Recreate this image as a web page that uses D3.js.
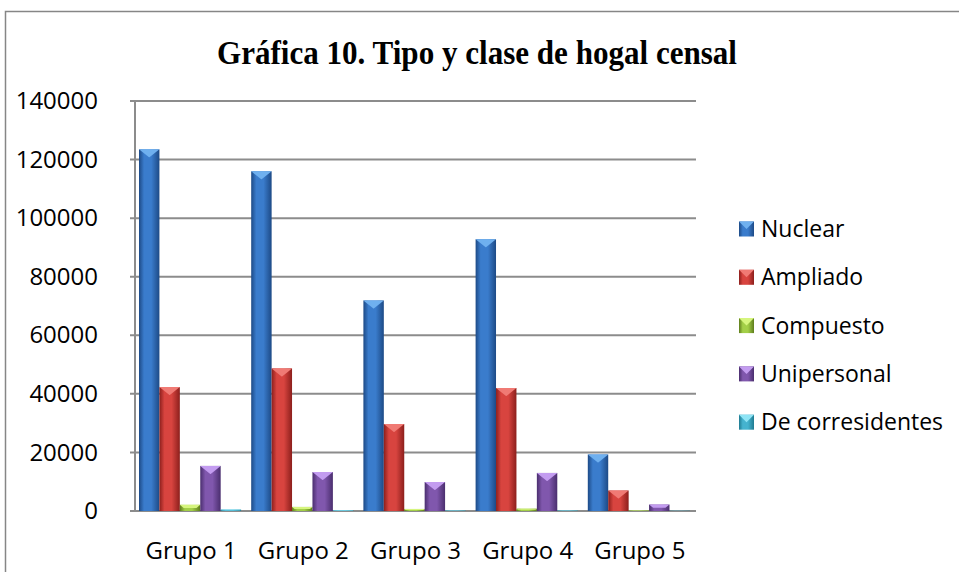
<!DOCTYPE html>
<html>
<head>
<meta charset="utf-8">
<script src="https://cdn.jsdelivr.net/npm/d3@7"></script>
<style>
  body { margin: 0; background: #fff; }
  svg text { font-family: "Open Sans", "Noto Sans", sans-serif; fill: #000; }
</style>
</head>
<body>
<div id="chart"></div>
<script>
// chart data
const groups = ["Grupo 1", "Grupo 2", "Grupo 3", "Grupo 4", "Grupo 5"];
const seriesNames = ["Nuclear", "Ampliado", "Compuesto", "Unipersonal", "De corresidentes"];
const nuclear = [123500, 116000, 71900, 92800, 19300];
const ampliado = [42300, 48700, 29700, 42000, 7000];
const compuesto = [2100, 1400, 700, 800, 200];
const unipersonal = [15400, 13300, 9900, 13000, 2200];
const corresidentes = [500, 300, 200, 200, 100];
const yTicks = [0, 20000, 40000, 60000, 80000, 100000, 120000, 140000];
const titleText = "Gráfica 10. Tipo y clase de hogal censal";

const allSeries = [nuclear, ampliado, compuesto, unipersonal, corresidentes];

// colours: [edge, middle, top cap]
const palette = [
    ["#1d4a86", "#3a7ccc", "#6fb0ef"],
    ["#8c1f1c", "#d8443f", "#f07a74"],
    ["#5e7d1c", "#a3cf48", "#d6f57e"],
    ["#4a2e6e", "#8057ad", "#c39cf0"],
    ["#1f7b91", "#45b3cf", "#8ee4f5"]
];

const width = 959, height = 572;
const plot = { left: 135, right: 696, top: 101, bottom: 511 };

const svg = d3.select("#chart").append("svg")
    .attr("width", width)
    .attr("height", height);

const defs = svg.append("defs");
palette.forEach((c, i) => {
    const g = defs.append("linearGradient")
        .attr("id", "grad" + i)
        .attr("x1", "0%").attr("x2", "100%")
        .attr("y1", "0%").attr("y2", "0%");
    g.append("stop").attr("offset", "0%").attr("stop-color", c[0]);
    g.append("stop").attr("offset", "25%").attr("stop-color", c[1]);
    g.append("stop").attr("offset", "60%").attr("stop-color", c[1]);
    g.append("stop").attr("offset", "100%").attr("stop-color", c[0]);
});

// chart border
svg.append("rect")
    .attr("x", 5.5).attr("y", 11.5)
    .attr("width", 960).attr("height", 600)
    .attr("fill", "none")
    .attr("stroke", "#868686")
    .attr("stroke-width", 1.5);

// title
svg.append("text")
    .attr("x", 477).attr("y", 64)
    .attr("text-anchor", "middle")
    .style("font-family", "'Liberation Serif', 'DejaVu Serif', serif")
    .style("font-weight", "bold")
    .style("font-size", "33px")
    .attr("textLength", 520)
    .attr("lengthAdjust", "spacingAndGlyphs")
    .text(titleText);

// scales
const x0 = d3.scaleBand()
    .domain(groups)
    .range([plot.left, plot.right])
    .padding(0);

const x1 = d3.scaleBand()
    .domain(seriesNames)
    .range([4, 4 + x0.bandwidth() * 0.91])
    .padding(0);

const y = d3.scaleLinear()
    .domain([0, 140000])
    .range([plot.bottom, plot.top]);

// gridlines
svg.append("g")
    .selectAll("line")
    .data(yTicks)
    .join("line")
    .attr("x1", plot.left - 5)
    .attr("x2", plot.right)
    .attr("y1", d => y(d))
    .attr("y2", d => y(d))
    .attr("stroke", "#8c8c8c")
    .attr("stroke-width", 2);

// y axis line
svg.append("line")
    .attr("x1", plot.left).attr("x2", plot.left)
    .attr("y1", plot.top).attr("y2", plot.bottom)
    .attr("stroke", "#8c8c8c")
    .attr("stroke-width", 2);

// y axis labels
const yAxis = d3.axisLeft(y)
    .tickValues(yTicks)
    .tickFormat(d3.format("d"))
    .tickSize(0)
    .tickPadding(0);

const yAxisGroup = svg.append("g")
    .attr("transform", `translate(98, 0)`)
    .call(yAxis);
yAxisGroup.select(".domain").remove();
yAxisGroup.selectAll("text")
    .style("font-size", "24px")
    .style("font-family", "'Open Sans', sans-serif")
    .attr("fill", "#000");

// x axis labels
const xAxis = d3.axisBottom(x0).tickSize(0).tickPadding(0);
const xAxisGroup = svg.append("g")
    .attr("transform", `translate(0, 542)`)
    .call(xAxis);
xAxisGroup.select(".domain").remove();
xAxisGroup.selectAll("text")
    .style("font-size", "24px")
    .style("font-family", "'Open Sans', sans-serif")
    .attr("fill", "#000");

// bars
const groupSel = svg.append("g")
    .selectAll("g")
    .data(groups)
    .join("g")
    .attr("transform", d => `translate(${x0(d)}, 0)`);

groupSel.each(function (g, gi) {
    const sel = d3.select(this);
    seriesNames.forEach((s, si) => {
        const v = allSeries[si][gi];
        const bx = x1(s);
        const bw = x1.bandwidth();
        const top = y(v);
        const h = plot.bottom - top;
        sel.append("rect")
            .attr("x", bx).attr("y", top)
            .attr("width", bw).attr("height", h)
            .attr("fill", `url(#grad${si})`);
        const c = Math.min(8, h * 0.5);
        const inset = Math.min(bw / 2, c * 1.25);
        sel.append("polygon")
            .attr("points", [
                [bx, top], [bx + bw, top],
                [bx + bw - inset, top + c], [bx + inset, top + c]
            ].map(p => p.join(",")).join(" "))
            .attr("fill", palette[si][2]);
    });
});

// legend
const legend = svg.append("g")
    .selectAll("g")
    .data(seriesNames)
    .join("g")
    .attr("transform", (d, i) => `translate(739, ${229 + i * 48.3})`);

legend.append("rect")
    .attr("x", 0).attr("y", -7.5)
    .attr("width", 15).attr("height", 15)
    .attr("fill", (d, i) => `url(#grad${i})`);
legend.append("polygon")
    .attr("points", "0,-7.5 15,-7.5 7.5,0")
    .attr("fill", (d, i) => palette[i][2]);
legend.append("text")
    .attr("x", 22).attr("y", 0)
    .attr("dy", "0.35em")
    .style("font-size", "23px")
    .text(d => d);
</script>
</body>
</html>
